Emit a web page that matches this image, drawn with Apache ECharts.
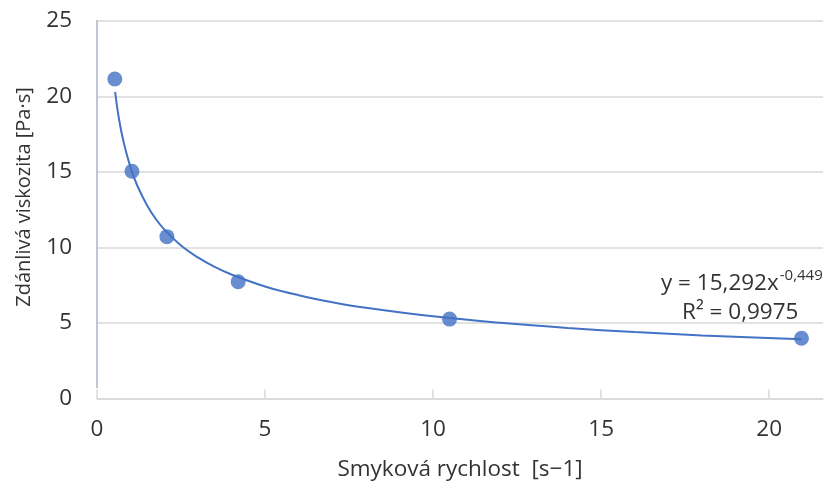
<!DOCTYPE html>
<html><head><meta charset="utf-8">
<script src="https://cdn.jsdelivr.net/npm/echarts@6/dist/echarts.min.js"></script>
<style>html,body{margin:0;padding:0;background:#fff}#c{width:839px;height:490px}</style>
</head><body><div id="c"></div>
<script>
// measured points: shear rate [s-1] vs apparent viscosity [Pa·s]
const shearRate = [0.53, 1.04, 2.08, 4.2, 10.49, 20.96];
const viscosity = [21.16, 15.05, 10.72, 7.73, 5.26, 3.99];
// trendline
const trendX = [0.54, 0.65, 0.8, 1, 1.2, 1.5, 1.75, 2, 2.5, 3, 3.5, 4, 5, 6, 7, 8, 10, 12, 14, 16, 18, 20.96];
const trendY = [20.3, 18.56, 16.9, 15.29, 14.09, 12.75, 11.89, 11.2, 10.13, 9.34, 8.71, 8.21, 7.42, 6.84, 6.38, 6.01, 5.44, 5.01, 4.67, 4.40, 4.18, 3.92];
const xTicks = [0, 5, 10, 15, 20];
const yTicks = [0, 5, 10, 15, 20, 25];
const xTitle = 'Smyková rychlost  [s\u22121]';
const yTitle = 'Zdánlivá viskozita [Pa·s]';
const eqMain = 'y = 15,292x';
const eqExp = '-0,449';
const r2Text = 'R² = 0,9975';

const font = '"Open Sans", "Noto Sans", sans-serif';
const fs = 22.5;
const txt = '#333333';
const mc = document.createElement('canvas').getContext('2d');
mc.font = fs + 'px ' + font;
const mainW = mc.measureText(eqMain).width;

const chart = echarts.init(document.getElementById('c'));
chart.setOption({
  animation: false,
  grid: {left: 97, right: 16, top: 21, bottom: 91.5},
  xAxis: {
    type: 'value', min: xTicks[0], max: 21.6, interval: xTicks[1] - xTicks[0],
    name: xTitle, nameLocation: 'middle', nameGap: 60,
    nameTextStyle: {fontFamily: font, fontSize: fs, color: txt},
    axisLine: {show: true, lineStyle: {color: '#d9d9d9', width: 1.5}},
    axisTick: {show: true, inside: true, length: 9, lineStyle: {color: '#d9d9d9', width: 1.5}},
    axisLabel: {showMaxLabel: false, fontFamily: font, fontSize: fs, color: txt, margin: 20},
    splitLine: {show: false}
  },
  yAxis: {
    type: 'value', min: yTicks[0], max: yTicks[yTicks.length - 1], interval: yTicks[1] - yTicks[0],
    axisLine: {show: false},
    axisTick: {show: false},
    axisLabel: {fontFamily: font, fontSize: fs, color: txt, margin: 25},
    splitLine: {show: true, lineStyle: {color: '#d9d9d9', width: 1.5}}
  },
  graphic: [
    {type: 'line', shape: {x1: 97, y1: 20, x2: 97, y2: 388}, style: {stroke: '#a9b4c6', lineWidth: 1.5}, z: 1},
    {type: 'text', x: 24, y: 197, rotation: Math.PI / 2, style: {text: yTitle, font: '20px ' + font, fill: txt, align: 'center', verticalAlign: 'middle'}, z: 10},
    {type: 'text', x: 661, y: 284, style: {text: eqMain, font: fs + 'px ' + font, fill: txt, verticalAlign: 'middle'}, z: 10},
    {type: 'text', x: 661 + mainW + 1, y: 276, style: {text: eqExp, font: '15px ' + font, fill: txt, verticalAlign: 'middle'}, z: 10},
    {type: 'text', x: 682, y: 313, style: {text: r2Text, font: fs + 'px ' + font, fill: txt, verticalAlign: 'middle'}, z: 10}
  ],
  series: [
    {
      type: 'line', data: trendX.map((x, i) => [x, trendY[i]]), smooth: 0.4,
      showSymbol: false, lineStyle: {color: '#4472c4', width: 2}, z: 2
    },
    {
      type: 'scatter', data: shearRate.map((x, i) => [x, viscosity[i]]),
      symbolSize: 15, itemStyle: {color: '#4472c4'}, z: 3
    }
  ]
});
</script></body></html>
